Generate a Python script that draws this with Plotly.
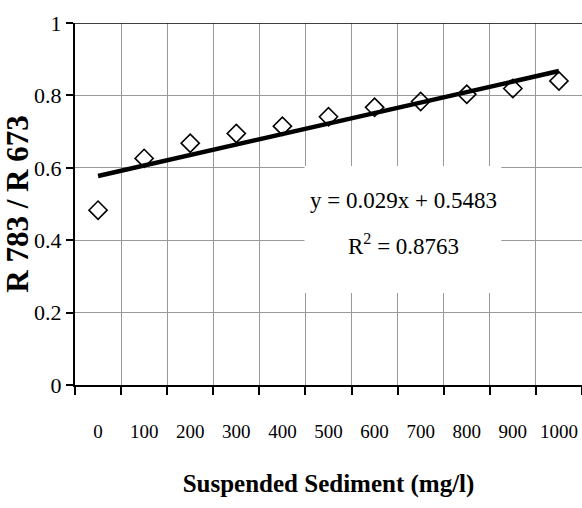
import plotly.graph_objects as go

# Data
categories = ["0", "100", "200", "300", "400", "500", "600", "700", "800", "900", "1000"]
ratio_values = [0.483, 0.626, 0.668, 0.695, 0.715, 0.741, 0.767, 0.783, 0.803, 0.819, 0.840]
trend_slope = 0.029
trend_intercept = 0.5483
r_squared = 0.8763

trend_x = [categories[0], categories[-1]]
trend_y = [trend_slope * 1 + trend_intercept, trend_slope * len(categories) + trend_intercept]

FONT = "'Liberation Serif', 'Times New Roman', serif"

fig = go.Figure()
fig.add_trace(go.Scatter(
    x=trend_x, y=trend_y, mode="lines",
    line=dict(color="black", width=4.5), showlegend=False, hoverinfo="skip"))
fig.add_trace(go.Scatter(
    x=categories, y=ratio_values, mode="markers",
    marker=dict(symbol="diamond-open", size=14, color="black", line=dict(width=1.6, color="black")),
    showlegend=False))

# white box behind equation
fig.add_shape(type="rect", xref="x", yref="y", x0=4.48, x1=8.75, y0=0.254, y1=0.605,
              fillcolor="white", line=dict(width=0), layer="above")
fig.add_shape(type="line", xref="paper", yref="y", x0=0, x1=1, y0=1, y1=1,
              line=dict(color="black", width=1.5), layer="above")

fig.add_annotation(x=6.62, y=0.510, xref="x", yref="y", showarrow=False,
                   text=f"y = {trend_slope}x + {trend_intercept}",
                   font=dict(family=FONT, size=23, color="black"))
fig.add_annotation(x=6.62, y=0.388, xref="x", yref="y", showarrow=False,
                   text=f"R<sup>2</sup> = {r_squared}",
                   font=dict(family=FONT, size=23, color="black"))

fig.update_layout(
    width=582, height=508,
    margin=dict(l=75, r=0, t=23, b=123),
    paper_bgcolor="white", plot_bgcolor="white",
    font=dict(family=FONT, color="black"),
    xaxis=dict(
        type="category", categoryorder="array", categoryarray=categories,
        range=[-0.5, 10.5], tickson="boundaries", tickangle=0,
        showgrid=True, gridcolor="#999999", gridwidth=1,
        ticks="outside", ticklen=8, tickwidth=1.5, tickcolor="black",
        ticklabelstandoff=28,
        showline=True, linecolor="black", linewidth=2,
        tickfont=dict(family=FONT, size=19, color="black"),
        title=dict(text="<b>Suspended Sediment (mg/l)</b>",
                   font=dict(family=FONT, size=25, color="black"), standoff=34),
    ),
    yaxis=dict(
        range=[0, 1], tick0=0, dtick=0.2,
        showgrid=True, gridcolor="#999999", gridwidth=1, zeroline=False,
        ticks="outside", ticklen=7, tickwidth=1.5, tickcolor="black",
        showline=True, linecolor="black", linewidth=2,
        tickfont=dict(family=FONT, size=22, color="black"),
        title=dict(text="<b>R 783 / R 673</b>",
                   font=dict(family=FONT, size=31, color="black"), standoff=0),
    ),
)

fig.write_html("out.html")
